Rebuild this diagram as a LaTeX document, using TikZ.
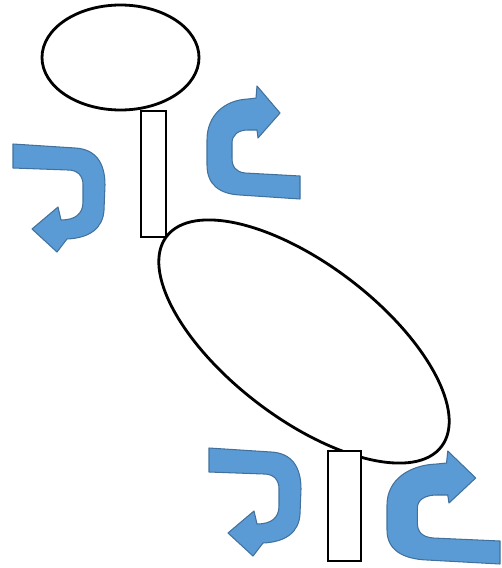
\documentclass[tikz,border=0pt]{standalone}
\definecolor{arrowblue}{HTML}{5B9BD5}
\definecolor{arrowedge}{HTML}{41719C}
\tikzset{
  outline/.style={draw=black, fill=white, line width=1.6pt},
  stem/.style={draw=black, fill=white, line width=1.5pt},
  bluearrow/.style={fill=arrowblue, draw=arrowedge, line width=0.6pt, line join=round},
}
\newcommand\uturnpath{(13,144) -- (75,148) .. controls (95,149) and (105,162) .. (105,185) -- (104,210) .. controls (103,228) and (90,238) .. (67,239) -- (57,252) -- (32,229) -- (58,207) -- (61,220) .. controls (75,220) and (83,214) .. (83,202) -- (83,185) .. controls (83,176) and (78,170) .. (68,170) -- (13,168) -- cycle}
\newcommand\cturnpath{(300,176) -- (245,173) .. controls (236,172) and (232,167) .. (232,158) -- (232,143) .. controls (232,135) and (238,130) .. (248,130) -- (257,130) -- (258,138) -- (280,113) -- (257,86) -- (256,98) -- (248,99) .. controls (225,100) and (207,115) .. (207,140) -- (207,165) .. controls (207,185) and (220,194) .. (240,195) -- (300,199) -- cycle}
\begin{document}
\begin{tikzpicture}[x=0.02cm,y=-0.02cm]
\useasboundingbox (0,0) rectangle (502,568);
% ellipses
\draw[outline] (120.5,57.5) ellipse [x radius=78.5, y radius=52.5];
\draw[outline, rotate around={-37.4:(304,341.5)}] (304,341.5) ellipse [x radius=173, y radius=77];
% stems
\draw[stem] (141,111) rectangle (166,237);
\draw[stem] (328,451) rectangle (361,561);
% arrows
\path[bluearrow] \uturnpath;
\begin{scope}[shift={(196,304)}]
  \path[bluearrow] \uturnpath;
\end{scope}
\path[bluearrow] \cturnpath;
\begin{scope}[shift={(387,365)}, xscale=1.215]
  \begin{scope}[shift={(-207,0)}]
    \path[bluearrow] \cturnpath;
  \end{scope}
\end{scope}
\end{tikzpicture}
\end{document}
